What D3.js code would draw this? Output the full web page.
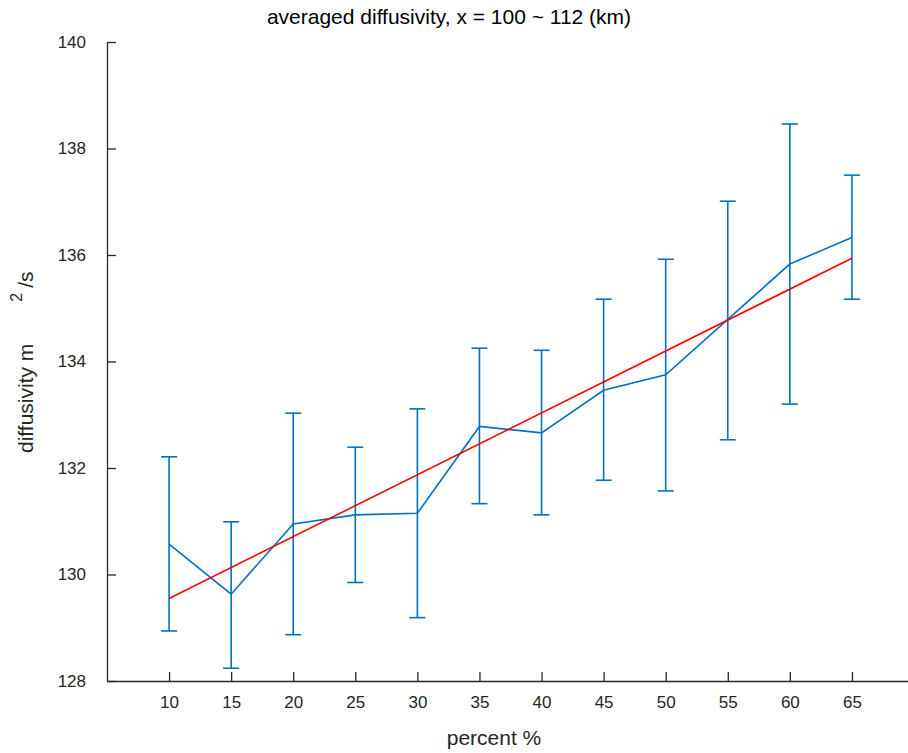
<!DOCTYPE html>
<html>
<head>
<meta charset="utf-8">
<script src="https://cdn.jsdelivr.net/npm/d3@7"></script>
<style>
  html, body { margin: 0; padding: 0; background: #fff; }
  svg { display: block; font-family: "Liberation Sans", Arial, Helvetica, sans-serif; }
</style>
</head>
<body>
<script>
// ---- data ----
const percents = [10, 15, 20, 25, 30, 35, 40, 45, 50, 55, 60, 65];
const meanValues = [130.57, 129.63, 130.95, 131.12, 131.15, 132.78, 132.66, 133.46, 133.75, 134.79, 135.83, 136.33];
const upperValues = [132.21, 130.99, 133.03, 132.39, 133.11, 134.25, 134.21, 135.17, 135.92, 137.01, 138.46, 137.50];
const lowerValues = [128.94, 128.24, 128.87, 129.85, 129.19, 131.33, 131.12, 131.77, 131.57, 132.53, 133.20, 135.17];
const fitX = [10, 65];
const fitY = [129.55, 135.94];
const xTicks = [10, 15, 20, 25, 30, 35, 40, 45, 50, 55, 60, 65];
const yTicks = [128, 130, 132, 134, 136, 138, 140];
const titleText = "averaged diffusivity, x = 100 ~ 112 (km)";
const xLabelText = "percent %";

// ---- layout ----
const W = 908, H = 753;
const svg = d3.select("body").append("svg").attr("width", W).attr("height", H);

const x = d3.scaleLinear().domain([5, 70]).range([107, 914]);
const y = d3.scaleLinear().domain([128, 140]).range([681, 42]);

const axisColor = "#262626";
const tickFs = 17;
const labelFs = 21;
const fontFam = "Liberation Sans, Arial, sans-serif";

// x axis
const gx = svg.append("g").attr("transform", `translate(0,${y(128)})`)
  .call(d3.axisBottom(x).tickValues(xTicks).tickSize(-9).tickPadding(14).tickSizeOuter(0));
gx.select(".domain").attr("stroke", axisColor).attr("stroke-width", 1.3);
gx.selectAll(".tick line").attr("stroke", axisColor).attr("stroke-width", 1.3);
gx.selectAll(".tick text").attr("fill", axisColor).attr("font-size", tickFs)
  .attr("font-family", fontFam).attr("dy", "0.71em").attr("y", 15);

// y axis
const gy = svg.append("g").attr("transform", `translate(${x(5)},0)`)
  .call(d3.axisLeft(y).tickValues(yTicks).tickSize(-9).tickPadding(21).tickSizeOuter(0));
gy.select(".domain").attr("stroke", axisColor).attr("stroke-width", 1.3);
gy.selectAll(".tick line").attr("stroke", axisColor).attr("stroke-width", 1.3);
gy.selectAll(".tick text").attr("fill", axisColor).attr("font-size", tickFs)
  .attr("font-family", fontFam);

// error bars
const blue = "#0072BD";
const capHalf = 8;
const bars = svg.append("g");
percents.forEach((p, i) => {
  const cx = x(p);
  bars.append("line").attr("x1", cx).attr("x2", cx)
    .attr("y1", y(lowerValues[i])).attr("y2", y(upperValues[i]))
    .attr("stroke", blue).attr("stroke-width", 1.6);
  [upperValues[i], lowerValues[i]].forEach(v => {
    bars.append("line").attr("x1", cx - capHalf).attr("x2", cx + capHalf)
      .attr("y1", y(v)).attr("y2", y(v))
      .attr("stroke", blue).attr("stroke-width", 1.6);
  });
});

// mean line
svg.append("path")
  .datum(percents.map((p, i) => [p, meanValues[i]]))
  .attr("fill", "none").attr("stroke", blue).attr("stroke-width", 1.6)
  .attr("d", d3.line().x(d => x(d[0])).y(d => y(d[1])));

// fit line
svg.append("path")
  .datum(fitX.map((p, i) => [p, fitY[i]]))
  .attr("fill", "none").attr("stroke", "#FF0000").attr("stroke-width", 1.6)
  .attr("d", d3.line().x(d => x(d[0])).y(d => y(d[1])));

// title
svg.append("text").attr("x", 449).attr("y", 24).attr("text-anchor", "middle")
  .attr("font-size", labelFs).attr("font-family", fontFam).attr("fill", "#000").text(titleText);

// x label
svg.append("text").attr("x", 494).attr("y", 745).attr("text-anchor", "middle")
  .attr("font-size", labelFs).attr("font-family", fontFam).attr("fill", axisColor).text(xLabelText);

// y label (rotated, MATLAB-style gap before superscript)
const yl = svg.append("text").attr("transform", "translate(33,453) rotate(-90)")
  .attr("text-anchor", "start").attr("font-size", labelFs).attr("font-family", fontFam)
  .attr("fill", axisColor);
yl.append("tspan").text("diffusivity m");
yl.append("tspan").attr("dx", 42).attr("dy", -11).attr("font-size", 16).text("2");
yl.append("tspan").attr("dx", 5).attr("dy", 11).text("/s");
</script>
</body>
</html>
